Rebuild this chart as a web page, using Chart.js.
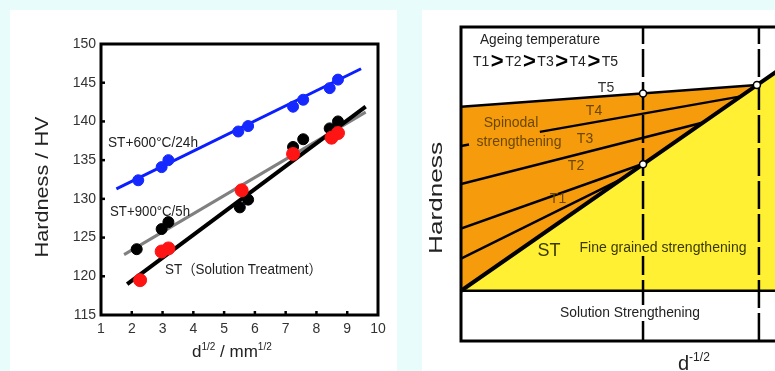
<!DOCTYPE html>
<html><head><meta charset="utf-8">
<script src="https://cdn.jsdelivr.net/npm/chart.js@4.4.1/dist/chart.umd.min.js"></script>
<style>
html,body{margin:0;padding:0;width:775px;height:371px;overflow:hidden;background:#e8fcfc;}
#p1{position:absolute;left:10px;top:10px;width:387px;height:361px;background:#fff;}
#p2{position:absolute;left:422px;top:10px;width:400px;height:361px;background:#fff;}
canvas{display:block;}
</style></head><body>
<div id="p1"><canvas id="c1" width="387" height="361"></canvas></div>
<div id="p2"><canvas id="c2" width="400" height="361"></canvas></div>
<script>
// ---------- Left chart data (Hardness vs d^1/2) ----------
const xTickValues = [1,2,3,4,5,6,7,8,9,10];
const yTickValues = [115,120,125,130,135,140,145,150];
const blueX  = [2.21, 2.97, 3.19, 5.46, 5.78, 7.24, 7.57, 8.43, 8.70];
const blueY  = [132.4,134.1,135.0,138.7,139.4,141.9,142.8,144.3,145.4];
const blackX = [2.16, 2.97, 3.19, 5.51, 5.78, 7.24, 7.57, 8.43, 8.70];
const blackY = [123.5,126.1,127.0,128.9,129.9,136.7,137.7,139.1,140.0];
const redX   = [2.27, 2.97, 3.19, 5.57, 7.24, 8.49, 8.70];
const redY   = [119.5,123.2,123.6,131.1,135.8,137.9,138.5];
const fit600X = [1.5, 9.45],  fit600Y = [131.3, 146.8];
const fit900X = [1.75, 9.6],  fit900Y = [122.8, 141.2];
const fitSTX  = [1.85, 9.6],  fitSTY  = [119.0, 141.9];

// ---------- Right schematic data (relative units 0-100) ----------
const stX = [0, 88.6, 100],        stY = [16, 81.5, 89.9];
const t5X = [0, 88.6],             t5Y = [74.6, 81.5];
const t4X = [0, 2.4, 13, 23.6, 83.8], t4Y = [62.1, 62.55, null, 66.6, 77.9];
const t3X = [0, 72.5],             t3Y = [50.0, 69.6];
const t2X = [0, 55],               t2Y = [35.8, 56.6];
const t1X = [0, 48.5],             t1Y = [26.2, 51.8];
const solX = [0, 100],             solY = [16, 16];
const v1X = [54.5, 54.5],          v1Y = [0, 100];
const v2X = [89.2, 89.2],          v2Y = [0, 100];
const dotX = [54.5, 54.5, 88.6],   dotY = [78.8, 56.3, 81.5];

const FONT = "'Liberation Sans', Arial, Helvetica, sans-serif";
Chart.defaults.font.family = FONT;
const pts = (xs, ys) => xs.map((x, i) => ({x: x, y: ys[i]}));

function txt(ctx, s, x, y, o) {
  o = o || {};
  ctx.save();
  ctx.font = o.font || ('14px ' + FONT);
  ctx.textAlign = o.align || 'left';
  ctx.textBaseline = o.base || 'middle';
  ctx.translate(x, y);
  if (o.rot) ctx.rotate(o.rot);
  let sx = 1;
  const mw = ctx.measureText(s).width;
  if (o.w) sx = o.w / mw;
  ctx.scale(sx, o.sy || 1);
  if (o.bg) {
    ctx.fillStyle = o.bg;
    const x0 = ctx.textAlign === 'center' ? -mw / 2 : 0;
    ctx.fillRect(x0 - 1, -8, mw + 2, 16);
  }
  ctx.fillStyle = o.color || '#222';
  ctx.fillText(s, 0, 0);
  ctx.restore();
  return mw * sx;
}

const leftDecor = {
  id: 'leftDecor',
  afterDraw(chart) {
    const ctx = chart.ctx, a = chart.chartArea;
    const xs = chart.scales.x, ys = chart.scales.y;
    ctx.save();
    ctx.strokeStyle = '#000';
    ctx.lineWidth = 2.5;
    xTickValues.slice(1, -1).forEach(v => {
      const px = xs.getPixelForValue(v);
      ctx.beginPath(); ctx.moveTo(px, a.bottom); ctx.lineTo(px, a.bottom - 4); ctx.stroke();
    });
    yTickValues.slice(1, -1).forEach(v => {
      const py = ys.getPixelForValue(v);
      ctx.beginPath(); ctx.moveTo(a.left, py); ctx.lineTo(a.left + 4, py); ctx.stroke();
    });
    ctx.lineWidth = 3;
    ctx.strokeRect(a.left, a.top, a.right - a.left, a.bottom - a.top);
    ctx.restore();
    txt(ctx, 'ST+600°C/24h', 98, 133, {w: 90});
    txt(ctx, 'ST+900°C/5h', 100, 202, {w: 80});
    txt(ctx, 'ST（Solution Treatment）', 155, 260, {w: 157, font: "14px 'Liberation Sans', 'Noto Sans CJK SC', sans-serif"});
    txt(ctx, 'Hardness / HV', 33, 177, {rot: -Math.PI / 2, align: 'center', w: 141, font: '18px ' + FONT});
    // x title with superscripts
    let x = 182; const by = 347;
    x += txt(ctx, 'd', x, by, {base: 'alphabetic', font: '17px ' + FONT});
    x += txt(ctx, '1/2', x, by - 7, {base: 'alphabetic', font: '10px ' + FONT});
    x += txt(ctx, ' / mm', x, by, {base: 'alphabetic', font: '17px ' + FONT});
    txt(ctx, '1/2', x, by - 7, {base: 'alphabetic', font: '10px ' + FONT});
  }
};

new Chart(document.getElementById('c1'), {
  type: 'scatter',
  data: { datasets: [
    {label: 'ST', data: pts(redX, redY), backgroundColor: '#ff1414', borderColor: '#ff1414', pointRadius: 6.5},
    {label: 'ST+900°C/5h', data: pts(blackX, blackY), backgroundColor: '#000', borderColor: '#000', pointRadius: 5.5},
    {label: 'ST+600°C/24h', data: pts(blueX, blueY), backgroundColor: '#1428ff', borderColor: '#1428ff', pointRadius: 5.5},
    {label: 'ST fit', data: pts(fitSTX, fitSTY), showLine: true, borderColor: '#000', borderWidth: 4, pointRadius: 0},
    {label: '900 fit', data: pts(fit900X, fit900Y), showLine: true, borderColor: '#808080', borderWidth: 3, pointRadius: 0},
    {label: '600 fit', data: pts(fit600X, fit600Y), showLine: true, borderColor: '#0a1eff', borderWidth: 3, pointRadius: 0}
  ]},
  options: {
    responsive: false, animation: false, events: [],
    layout: {padding: {left: 0, top: 34, right: 19, bottom: 0}},
    plugins: {legend: {display: false}, tooltip: {enabled: false}},
    scales: {
      x: {type: 'linear', min: 1, max: 10,
          afterBuildTicks: s => { s.ticks = xTickValues.map(v => ({value: v})); },
          ticks: {color: '#333', font: {size: 14}, padding: 6, maxRotation: 0, autoSkip: false},
          grid: {display: false, drawTicks: false}, border: {display: false},
          afterFit: s => { s.height = 56; }},
      y: {type: 'linear', min: 115, max: 150,
          afterBuildTicks: s => { s.ticks = yTickValues.map(v => ({value: v})); },
          ticks: {color: '#333', font: {size: 14}, padding: 5, autoSkip: false},
          grid: {display: false, drawTicks: false}, border: {display: false},
          afterFit: s => { s.width = 91; }}
    }
  },
  plugins: [leftDecor]
});

// ---------- Right schematic ----------
const ORANGE = '#f69c0c', YELLOW = '#fff034';
const BROWN = '#6b4800', OLIVE = '#3a3a00';
const rightDecor = {
  id: 'rightDecor',
  afterDraw(chart) {
    const ctx = chart.ctx, a = chart.chartArea;
    ctx.save();
    ctx.strokeStyle = '#000'; ctx.lineWidth = 3;
    ctx.strokeRect(a.left, a.top, a.right - a.left, a.bottom - a.top);
    ctx.restore();
    txt(ctx, 'Ageing temperature', 118, 30, {align: 'center', w: 120});
    let x = 51;
    ['T1','>','T2','>','T3','>','T4','>','T5'].forEach(s => {
      const f = s === '>' ? ("bold 22px " + FONT) : ('14px ' + FONT);
      x += txt(ctx, s, x, 52, {font: f, color: s === '>' ? '#000' : '#222'}) + 1.5;
    });
    txt(ctx, 'T5', 184, 78, {align: 'center', color: '#333'});
    txt(ctx, 'T4', 172, 101, {align: 'center', color: BROWN});
    txt(ctx, 'T3', 163, 129, {align: 'center', color: BROWN});
    txt(ctx, 'T2', 154, 156, {align: 'center', color: BROWN});
    txt(ctx, 'T1', 136, 189, {align: 'center', color: BROWN});
    txt(ctx, 'Spinodal', 89, 113, {align: 'center', color: BROWN});
    txt(ctx, 'strengthening', 97, 132, {align: 'center', color: BROWN});
    txt(ctx, 'ST', 127, 241, {align: 'center', color: OLIVE, font: '18px ' + FONT});
    txt(ctx, 'Fine grained strengthening', 241, 238, {align: 'center', color: OLIVE, w: 167, bg: YELLOW});
    txt(ctx, 'Solution Strengthening', 208, 303, {align: 'center', w: 140, bg: '#fff'});
    txt(ctx, 'Hardness', 15, 188, {rot: -Math.PI / 2, align: 'center', w: 112, font: '18px ' + FONT});
    let dx = 256;
    dx += txt(ctx, 'd', dx, 360, {base: 'alphabetic', font: '20px ' + FONT});
    txt(ctx, '-1/2', dx, 351, {base: 'alphabetic', font: '12px ' + FONT});
  }
};

const lineDs = (label, xs, ys, extra) => Object.assign({
  label: label, data: pts(xs, ys), showLine: true, borderColor: '#000',
  borderWidth: 2.5, pointRadius: 0, fill: false
}, extra || {});

new Chart(document.getElementById('c2'), {
  type: 'scatter',
  data: { datasets: [
    {label: 'nodes', data: pts(dotX, dotY), pointRadius: 3.5, backgroundColor: '#fff', borderColor: '#000', borderWidth: 1.5},
    lineDs('ST', stX, stY, {borderWidth: 4, fill: {value: 16}, backgroundColor: YELLOW}),
    lineDs('T5', t5X, t5Y, {fill: 1, backgroundColor: ORANGE}),
    lineDs('T4', t4X, t4Y),
    lineDs('T3', t3X, t3Y),
    lineDs('T2', t2X, t2Y),
    lineDs('T1', t1X, t1Y),
    lineDs('v1', v1X, v1Y, {borderDash: [28, 5]}),
    lineDs('v2', v2X, v2Y, {borderDash: [28, 5]}),
    lineDs('sol', solX, solY)
  ]},
  options: {
    responsive: false, animation: false, events: [],
    layout: {padding: {left: 39, top: 17, right: 27, bottom: 30}},
    plugins: {legend: {display: false}, tooltip: {enabled: false}, filler: {drawTime: 'beforeDatasetsDraw'}},
    scales: {
      x: {type: 'linear', min: 0, max: 100, display: false},
      y: {type: 'linear', min: 0, max: 100, display: false}
    }
  },
  plugins: [rightDecor]
});
</script>
</body></html>
